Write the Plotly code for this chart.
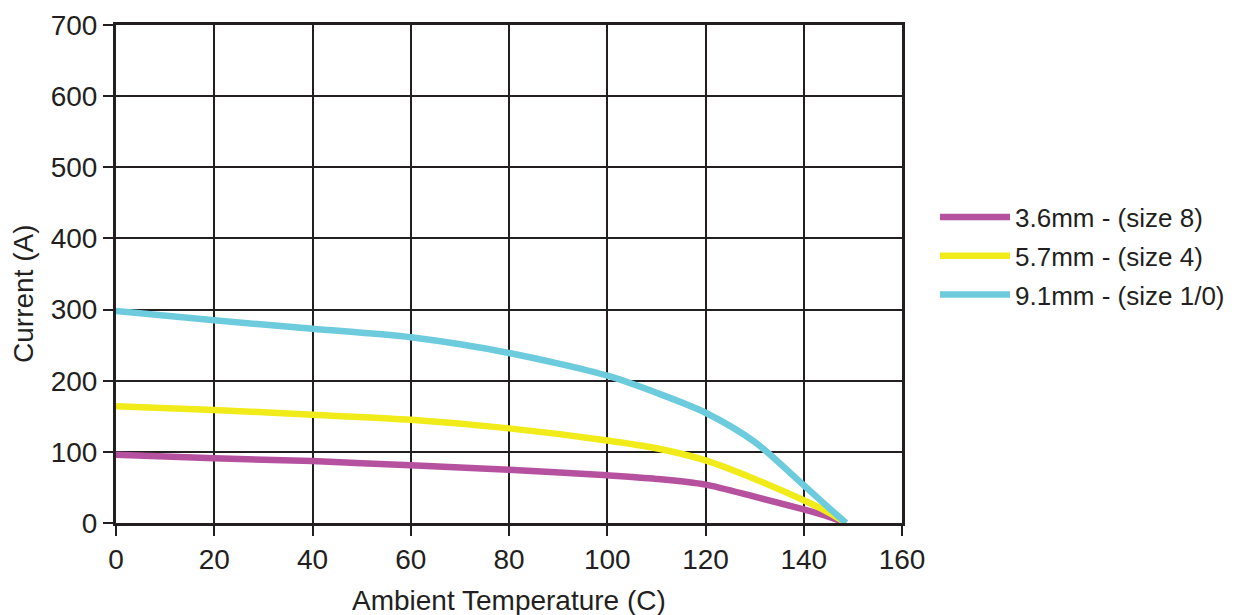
import plotly.graph_objects as go

temps = [0, 20, 40, 60, 80, 100, 110, 120, 130, 140, 145, 148.6]
size8 = [96, 91, 87, 81, 75, 67, 62, 54, 37, 19, 9, 0]
size4 = [164, 159, 152, 145, 133, 116, 105, 88, 62, 32, 15, 0]
size10 = [298, 285, 273, 261, 239, 207, 183, 155, 114, 53, 22, 0]

names = ["3.6mm - (size 8)", "5.7mm - (size 4)", "9.1mm - (size 1/0)"]
colors = ["#b5519f", "#f2eb1a", "#6ccbdc"]
series = [size8, size4, size10]

x_ticks = [0, 20, 40, 60, 80, 100, 120, 140, 160]
y_ticks = [0, 100, 200, 300, 400, 500, 600, 700]

FONT = "Liberation Sans, Arial, Helvetica, sans-serif"
INK = "#231f20"

fig = go.Figure()
for i, (nm, col, ys) in enumerate(zip(names, colors, series)):
    fig.add_trace(go.Scatter(
        x=temps, y=ys, name=nm, mode="lines",
        line=dict(color=col, width=6.5, shape="spline", smoothing=0.8),
        legendgroup=f"g{i}",
    ))

fig.update_layout(
    width=1238, height=615,
    margin=dict(l=108, r=344, t=17, b=100, autoexpand=False),
    paper_bgcolor="white", plot_bgcolor="white",
    font=dict(family=FONT, size=28, color=INK),
    showlegend=True,
    legend=dict(
        x=1.042, y=0.536, xanchor="left", yanchor="middle",
        font=dict(family=FONT, size=26, color=INK),
        tracegroupgap=2, itemwidth=70,
        bgcolor="rgba(0,0,0,0)",
    ),
    xaxis=dict(
        range=[0, 160], tickvals=x_ticks, ticktext=[str(v) for v in x_ticks],
        showgrid=True, gridcolor=INK, gridwidth=2.2,
        showline=True, linecolor=INK, linewidth=2.5, mirror=True,
        ticks="outside", ticklen=10, tickwidth=2, tickcolor=INK,
        zeroline=False, tickfont=dict(size=28), automargin=False,
    ),
    yaxis=dict(
        range=[0, 700], tickvals=y_ticks, ticktext=[str(v) for v in y_ticks],
        showgrid=True, gridcolor=INK, gridwidth=2.2,
        showline=True, linecolor=INK, linewidth=3, mirror=True,
        ticks="outside", ticklen=10, tickwidth=2, tickcolor=INK,
        zeroline=False, tickfont=dict(size=28), automargin=False,
    ),
    annotations=[
        dict(text="Ambient Temperature (C)", xref="paper", yref="paper",
             x=0.5, y=-0.155, xanchor="center", yanchor="middle",
             showarrow=False, font=dict(size=28, color=INK, family=FONT)),
        dict(text="Current (A)", xref="paper", yref="paper",
             x=-0.117, y=0.46, xanchor="center", yanchor="middle",
             textangle=-90, showarrow=False,
             font=dict(size=28, color=INK, family=FONT)),
    ],
)

fig.write_html("out.html")
